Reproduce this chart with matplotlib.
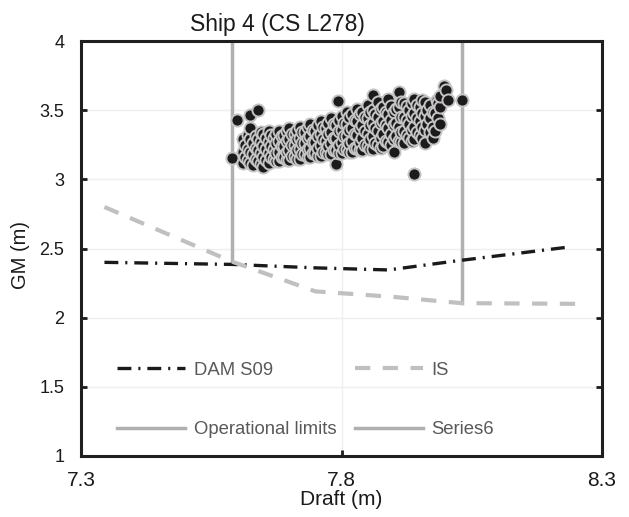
import numpy as np
import matplotlib
matplotlib.use("Agg")
import matplotlib.pyplot as plt
from matplotlib.ticker import FuncFormatter

plt.rcParams['font.family'] = ['Liberation Sans', 'DejaVu Sans']
plt.rcParams['lines.scale_dashes'] = False

# criteria curves
dam_x = [7.345, 7.59, 7.75, 7.89, 8.02, 8.235]
dam_y = [2.40, 2.385, 2.36, 2.345, 2.41, 2.51]
is_x = [7.345, 7.59, 7.75, 7.90, 8.03, 8.25]
is_y = [2.80, 2.405, 2.19, 2.15, 2.105, 2.10]

# operational limits (vertical lines)
op_x = [7.589, 7.589]
op_y = [2.405, 4.0]
s6_x = [8.031, 8.031]
s6_y = [2.104, 4.0]

# loading conditions (draft, GM), roughly by column
pts = [
    (7.590, 3.155),
    (7.610, 3.12), (7.610, 3.20), (7.610, 3.29),
    (7.620, 3.14), (7.620, 3.22), (7.620, 3.32), (7.600, 3.43),
    (7.630, 3.10), (7.630, 3.18), (7.630, 3.26), (7.625, 3.37), (7.624, 3.466),
    (7.640, 3.13), (7.640, 3.21), (7.640, 3.29), (7.640, 3.50),
    (7.650, 3.09), (7.650, 3.16), (7.650, 3.24), (7.650, 3.33),
    (7.660, 3.12), (7.660, 3.19), (7.660, 3.27), (7.660, 3.35),
    (7.670, 3.15), (7.670, 3.22), (7.670, 3.30),
    (7.680, 3.13), (7.680, 3.20), (7.680, 3.28), (7.680, 3.35),
    (7.690, 3.16), (7.690, 3.24), (7.690, 3.32),
    (7.700, 3.14), (7.700, 3.21), (7.700, 3.29), (7.700, 3.37),
    (7.710, 3.17), (7.710, 3.25), (7.710, 3.33),
    (7.720, 3.15), (7.720, 3.22), (7.720, 3.30), (7.720, 3.38),
    (7.730, 3.18), (7.730, 3.26), (7.730, 3.34),
    (7.740, 3.16), (7.740, 3.23), (7.740, 3.31), (7.740, 3.40),
    (7.750, 3.19), (7.750, 3.27), (7.750, 3.35),
    (7.760, 3.17), (7.760, 3.25), (7.760, 3.33), (7.760, 3.42),
    (7.770, 3.20), (7.770, 3.28), (7.770, 3.37),
    (7.780, 3.18), (7.780, 3.26), (7.780, 3.34), (7.780, 3.44),
    (7.790, 3.11), (7.790, 3.21), (7.790, 3.30), (7.790, 3.39), (7.793, 3.567),
    (7.800, 3.19), (7.800, 3.27), (7.800, 3.36), (7.800, 3.46),
    (7.810, 3.22), (7.810, 3.31), (7.810, 3.40), (7.810, 3.49),
    (7.820, 3.20), (7.820, 3.28), (7.820, 3.37), (7.820, 3.47),
    (7.830, 3.23), (7.830, 3.32), (7.830, 3.42), (7.830, 3.51),
    (7.840, 3.21), (7.840, 3.30), (7.840, 3.39), (7.840, 3.49),
    (7.850, 3.24), (7.850, 3.33), (7.850, 3.44), (7.850, 3.54),
    (7.860, 3.22), (7.860, 3.31), (7.860, 3.41), (7.860, 3.50), (7.860, 3.61),
    (7.870, 3.25), (7.870, 3.35), (7.870, 3.45), (7.870, 3.56),
    (7.880, 3.24), (7.880, 3.33), (7.880, 3.42), (7.880, 3.52),
    (7.890, 3.27), (7.890, 3.37), (7.890, 3.47), (7.890, 3.58),
    (7.900, 3.20), (7.900, 3.29), (7.900, 3.39), (7.900, 3.49),
    (7.910, 3.28), (7.910, 3.38), (7.910, 3.52), (7.910, 3.63),
    (7.920, 3.26), (7.920, 3.35), (7.920, 3.45), (7.920, 3.55),
    (7.930, 3.30), (7.930, 3.40), (7.930, 3.50),
    (7.939, 3.04), (7.940, 3.29), (7.940, 3.38), (7.940, 3.48), (7.940, 3.58),
    (7.950, 3.32), (7.950, 3.42), (7.950, 3.52),
    (7.960, 3.26), (7.960, 3.36), (7.960, 3.46), (7.960, 3.56),
    (7.970, 3.34), (7.970, 3.44), (7.970, 3.54),
    (7.980, 3.35), (7.980, 3.48), (7.983, 3.575),
    (7.990, 3.40), (7.990, 3.52), (7.990, 3.60),
    (7.997, 3.675), (8.000, 3.646), (8.004, 3.575),
    (8.031, 3.575),
]
# in-between columns, the cloud is packed tighter than one column per 0.01 m
pts_mid = [
    (7.615, 3.16), (7.615, 3.25),
    (7.625, 3.12), (7.625, 3.20), (7.625, 3.29),
    (7.635, 3.15), (7.635, 3.23), (7.635, 3.31),
    (7.645, 3.11), (7.645, 3.19), (7.645, 3.27), (7.645, 3.34),
    (7.655, 3.14), (7.655, 3.22), (7.655, 3.30),
    (7.665, 3.16), (7.665, 3.24), (7.665, 3.32),
    (7.675, 3.13), (7.675, 3.19), (7.675, 3.26), (7.675, 3.33),
    (7.685, 3.16), (7.685, 3.24), (7.685, 3.31),
    (7.695, 3.14), (7.695, 3.20), (7.695, 3.28), (7.695, 3.35),
    (7.705, 3.17), (7.705, 3.25), (7.705, 3.33),
    (7.715, 3.15), (7.715, 3.21), (7.715, 3.29), (7.715, 3.36),
    (7.725, 3.18), (7.725, 3.26), (7.725, 3.34),
    (7.735, 3.16), (7.735, 3.22), (7.735, 3.30), (7.735, 3.38),
    (7.745, 3.19), (7.745, 3.27), (7.745, 3.36),
    (7.755, 3.17), (7.755, 3.23), (7.755, 3.31), (7.755, 3.39),
    (7.765, 3.20), (7.765, 3.29), (7.765, 3.38),
    (7.775, 3.18), (7.775, 3.24), (7.775, 3.33), (7.775, 3.41),
    (7.785, 3.21), (7.785, 3.30), (7.785, 3.40),
    (7.795, 3.19), (7.795, 3.25), (7.795, 3.35), (7.795, 3.43),
    (7.805, 3.22), (7.805, 3.31), (7.805, 3.41),
    (7.815, 3.20), (7.815, 3.26), (7.815, 3.36), (7.815, 3.45),
    (7.825, 3.23), (7.825, 3.33), (7.825, 3.43),
    (7.835, 3.21), (7.835, 3.27), (7.835, 3.37), (7.835, 3.47),
    (7.845, 3.25), (7.845, 3.35), (7.845, 3.45),
    (7.855, 3.22), (7.855, 3.29), (7.855, 3.39), (7.855, 3.49),
    (7.865, 3.26), (7.865, 3.37), (7.865, 3.47),
    (7.875, 3.23), (7.875, 3.30), (7.875, 3.41), (7.875, 3.51),
    (7.885, 3.28), (7.885, 3.39), (7.885, 3.49),
    (7.895, 3.25), (7.895, 3.33), (7.895, 3.43), (7.895, 3.53),
    (7.905, 3.31), (7.905, 3.41), (7.905, 3.51),
    (7.915, 3.27), (7.915, 3.34), (7.915, 3.45), (7.915, 3.56),
    (7.925, 3.32), (7.925, 3.43), (7.925, 3.53),
    (7.935, 3.28), (7.935, 3.36), (7.935, 3.46), (7.935, 3.55),
    (7.945, 3.34), (7.945, 3.44), (7.945, 3.54),
    (7.955, 3.30), (7.955, 3.38), (7.955, 3.48), (7.955, 3.57),
    (7.965, 3.40), (7.965, 3.50),
    (7.975, 3.30), (7.975, 3.38), (7.975, 3.49),
    (7.985, 3.44), (7.985, 3.55),
]
all_pts = sorted(pts + pts_mid)
gm_x = [p[0] for p in all_pts]
gm_y = [p[1] for p in all_pts]

fig = plt.figure(figsize=(6.29, 5.17), dpi=100)
ax = fig.add_axes([81/629, 61/517, 521/629, 415/517])

ax.grid(True, color='#efefef', linewidth=1.0, zorder=0)
ax.set_axisbelow(True)

l_dam, = ax.plot(dam_x, dam_y, color='#1a1a1a', linewidth=2.4, dashes=(10, 5, 1.5, 5),
                 label='DAM S09', zorder=3)
l_is, = ax.plot(is_x, is_y, color='#c0c0c0', linewidth=3.0, dashes=(11, 9),
                label='IS', zorder=3)
l_op, = ax.plot(op_x, op_y, color='#b0b0b0', linewidth=2.5, label='Operational limits', zorder=2)
l_s6, = ax.plot(s6_x, s6_y, color='#b0b0b0', linewidth=2.5, label='Series6', zorder=2)

ax.scatter(gm_x, gm_y, s=76, c='#1c1a1b', edgecolors='#c4c4c4', linewidths=1.4, zorder=4)

ax.set_xlim(7.3, 8.3)
ax.set_ylim(1, 4)
ax.set_xticks([7.3, 7.8, 8.3])
ax.set_yticks([1, 1.5, 2, 2.5, 3, 3.5, 4])
ax.yaxis.set_major_formatter(FuncFormatter(lambda v, p: ('%g' % v)))
ax.xaxis.set_major_formatter(FuncFormatter(lambda v, p: ('%g' % v)))

ax.tick_params(axis='y', direction='in', length=4, width=2, labelsize=13, pad=12,
               right=True, colors='#1a1a1a')
ax.tick_params(axis='x', direction='in', length=4, width=2, labelsize=15, pad=11,
               colors='#1a1a1a')
for sp in ax.spines.values():
    sp.set_linewidth(2.2)
    sp.set_color('#1f1f1f')

ax.set_xlabel('Draft (m)', fontsize=15, labelpad=0, color='#1a1a1a')
ax.set_ylabel('GM (m)', fontsize=14.5, color='#1a1a1a')
ax.yaxis.set_label_coords(-0.097, 0.484)
ax.set_title('Ship 4 (CS L278)', fontsize=16.5, x=0.377, pad=7, color='#1a1a1a')

# legend fills column by column: DAM / Operational limits, then IS / Series6
leg = ax.legend([l_dam, l_op, l_is, l_s6],
                ['DAM S09', 'Operational limits', 'IS', 'Series6'],
                loc='center left', bbox_to_anchor=(0.069, 0.135), ncol=2,
                frameon=False, fontsize=13.3, handlelength=3.7, handletextpad=0.45,
                columnspacing=1.0, labelspacing=2.3, borderaxespad=0, borderpad=0)
for t in leg.get_texts():
    t.set_color('#595959')

fig.savefig('out.png', dpi=100)
